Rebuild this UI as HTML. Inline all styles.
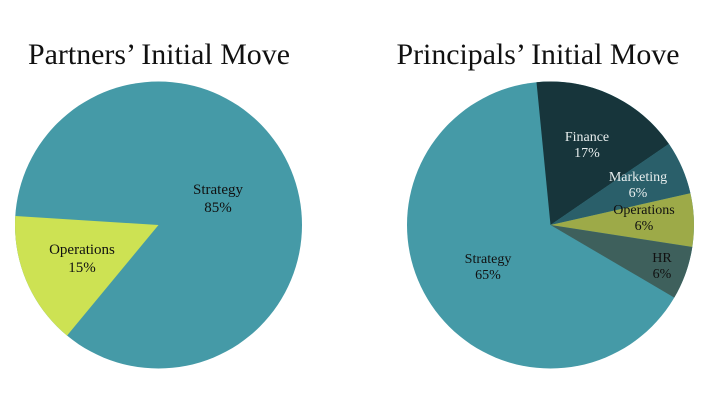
<!DOCTYPE html>
<html><head><style>body{margin:0;background:#fff}svg{display:block}</style></head><body>
<svg width="720" height="400" xmlns="http://www.w3.org/2000/svg" font-family="Liberation Serif, serif">
<rect width="720" height="400" fill="#fff"/>
<text x="159" y="64" font-size="30" text-anchor="middle" fill="#111" textLength="262" lengthAdjust="spacingAndGlyphs">Partners’ Initial Move</text>
<text x="538" y="64" font-size="30" text-anchor="middle" fill="#111" textLength="283" lengthAdjust="spacingAndGlyphs">Principals’ Initial Move</text>
<circle cx="158.5" cy="225" r="143.5" fill="#459aa7"/>
<path d="M158.5,225 L67,335.6 A143.5,143.5 0 0 1 15.3,216 Z" fill="#cde253"/>
<text x="218" y="194" font-size="15" text-anchor="middle" fill="#111">Strategy</text>
<text x="218" y="212" font-size="15" text-anchor="middle" fill="#111">85%</text>
<text x="82" y="254" font-size="15" text-anchor="middle" fill="#111">Operations</text>
<text x="82" y="272" font-size="15" text-anchor="middle" fill="#111">15%</text>
<circle cx="550.5" cy="225" r="143.5" fill="#459aa7"/>
<path d="M550.5,225 L536.5,82.2 A143.5,143.5 0 0 1 668.9,143.9 Z" fill="#17353b"/>
<path d="M550.5,225 L668.9,143.9 A143.5,143.5 0 0 1 690.4,193.2 Z" fill="#2a5f6a"/>
<path d="M550.5,225 L690.4,193.2 A143.5,143.5 0 0 1 692.3,247 Z" fill="#9daa48"/>
<path d="M550.5,225 L692.3,247 A143.5,143.5 0 0 1 674.3,297.6 Z" fill="#3e605c"/>
<text x="587" y="141" font-size="14" text-anchor="middle" fill="#e8eeee">Finance</text>
<text x="587" y="157" font-size="14" text-anchor="middle" fill="#e8eeee">17%</text>
<text x="638" y="181" font-size="14" text-anchor="middle" fill="#e8eeee">Marketing</text>
<text x="638" y="197" font-size="14" text-anchor="middle" fill="#e8eeee">6%</text>
<text x="644" y="214" font-size="14" text-anchor="middle" fill="#111">Operations</text>
<text x="644" y="230" font-size="14" text-anchor="middle" fill="#111">6%</text>
<text x="662" y="262" font-size="14" text-anchor="middle" fill="#111">HR</text>
<text x="662" y="278" font-size="14" text-anchor="middle" fill="#111">6%</text>
<text x="488" y="263" font-size="14" text-anchor="middle" fill="#111">Strategy</text>
<text x="488" y="279" font-size="14" text-anchor="middle" fill="#111">65%</text>
</svg>
</body></html>
